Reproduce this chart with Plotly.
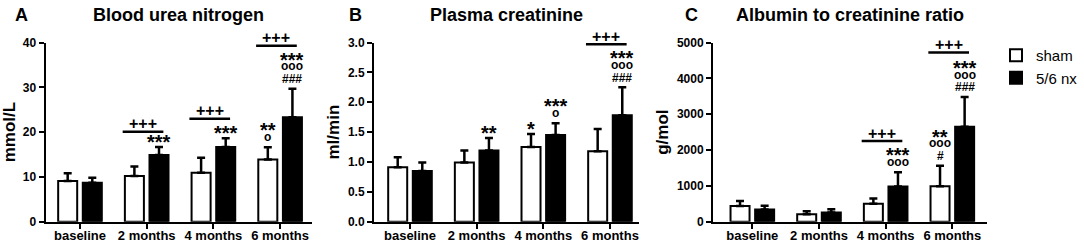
import plotly.graph_objects as go

# ---------------- data ----------------
categories = ["baseline", "2 months", "4 months", "6 months"]
series_names = ["sham", "5/6 nx"]

bun_sham = [9.1, 10.2, 10.9, 13.9]
bun_sham_err = [1.7, 2.1, 3.4, 2.7]
bun_nx = [8.7, 14.9, 16.7, 23.3]
bun_nx_err = [1.1, 1.8, 1.9, 6.4]

crea_sham = [0.91, 0.99, 1.25, 1.18]
crea_sham_err = [0.17, 0.20, 0.22, 0.37]
crea_nx = [0.85, 1.19, 1.45, 1.78]
crea_nx_err = [0.14, 0.21, 0.20, 0.47]

acr_sham = [440, 210, 500, 990]
acr_sham_err = [140, 85, 150, 570]
acr_nx = [340, 255, 980, 2650]
acr_nx_err = [105, 95, 400, 830]

# significance labels, listed bottom to top
bun_sham_sig = [[], [], [], ["o", "**"]]
bun_nx_sig = [[], ["***"], ["***"], ["###", "ooo", "***"]]
crea_sham_sig = [[], [], ["*"], []]
crea_nx_sig = [[], ["**"], ["o", "***"], ["###", "ooo", "***"]]
acr_sham_sig = [[], [], [], ["#", "ooo", "**"]]
acr_nx_sig = [[], [], ["ooo", "***"], ["###", "ooo", "***"]]

# "+++" bracket levels (None = no bracket)
bun_brackets = [None, 20.1, 23.0, 39.3]
crea_brackets = [None, None, None, 2.97]
acr_brackets = [None, None, 2250, 4720]

titles = ["Blood urea nitrogen", "Plasma creatinine", "Albumin to creatinine ratio"]
letters = ["A", "B", "C"]
ytitles = ["mmol/L", "ml/min", "g/mol"]
bun_ticks = [0, 10, 20, 30, 40]
crea_ticks = [0.0, 0.5, 1.0, 1.5, 2.0, 2.5, 3.0]
acr_ticks = [0, 1000, 2000, 3000, 4000, 5000]

# ---------------- styling / layout ----------------
FONT = "Liberation Sans, Arial, Helvetica, sans-serif"
W, H = 1084, 245
BARGAP, BARGROUPGAP = 0.262, 0.227
slot = (1 - BARGAP) / 2
bar_off = slot / 2  # centre offset of each bar from category centre

panels = [
    dict(sham=bun_sham, sham_err=bun_sham_err, nx=bun_nx, nx_err=bun_nx_err,
         sham_sig=bun_sham_sig, nx_sig=bun_nx_sig, brackets=bun_brackets,
         ticks=bun_ticks, fmt="d", xpx=(45.5, 312), xr=(-0.517, 3.478), letter_px=13),
    dict(sham=crea_sham, sham_err=crea_sham_err, nx=crea_nx, nx_err=crea_nx_err,
         sham_sig=crea_sham_sig, nx_sig=crea_nx_sig, brackets=crea_brackets,
         ticks=crea_ticks, fmt=".1f", xpx=(374, 639.3), xr=(-0.54, 3.44), letter_px=347),
    dict(sham=acr_sham, sham_err=acr_sham_err, nx=acr_nx, nx_err=acr_nx_err,
         sham_sig=acr_sham_sig, nx_sig=acr_nx_sig, brackets=acr_brackets,
         ticks=acr_ticks, fmt="d", xpx=(713, 987), xr=(-0.59, 3.52), letter_px=683),
]

ydom = [(H - 221.7) / H, (H - 42.5) / H]

fig = go.Figure()
annotations = []
shapes = []


def glyph_size(s):
    if "*" in s:
        return 20
    if "+" in s:
        return 16
    return 12


def glyph_lift(s, size):
    # visual centre of glyph relative to text-box middle (px)
    if "*" in s:
        return 0.23 * size
    if "o" in s:
        return -0.08 * size
    return 0.0


for k, p in enumerate(panels):
    sfx = "" if k == 0 else str(k + 1)
    xa, ya = "x" + sfx, "y" + sfx
    for name, vals, errs, fill in [
        (series_names[0], p["sham"], p["sham_err"], "white"),
        (series_names[1], p["nx"], p["nx_err"], "black"),
    ]:
        fig.add_trace(go.Bar(
            x=list(range(len(categories))), y=vals, name=name,
            xaxis=xa, yaxis=ya, legendgroup=name, showlegend=(k == 0),
            marker=dict(color=fill, line=dict(color="black", width=2)),
            error_y=dict(type="data", array=errs, arrayminus=[0] * len(errs),
                         symmetric=False, color="black", thickness=2.5, width=4),
            hoverinfo="skip",
        ))

    x0px, x1px = p["xpx"]
    fig.layout["xaxis" + sfx] = dict(
        domain=[x0px / W, x1px / W], anchor=ya, range=list(p["xr"]),
        tickvals=list(range(len(categories))), ticktext=categories,
        showline=True, linecolor="black", linewidth=2, ticks="outside",
        ticklen=5, tickwidth=1.5, tickcolor="black", showgrid=False, zeroline=False,
        tickfont=dict(family=FONT, size=13, color="black", weight="bold"),
        ticklabelstandoff=-4,
        automargin=False, fixedrange=True,
    )
    fig.layout["yaxis" + sfx] = dict(
        domain=ydom, anchor=xa, range=[p["ticks"][0], p["ticks"][-1]],
        tickvals=p["ticks"], tickformat=p["fmt"],
        showline=True, linecolor="black", linewidth=2, ticks="outside",
        ticklen=5, tickwidth=2, tickcolor="black", showgrid=False, zeroline=False,
        tickfont=dict(family=FONT, size=12, color="black", weight="bold"),
        title=dict(text=ytitles[k], standoff=4,
                   font=dict(family=FONT, size=17, color="black", weight="bold")),
        automargin=False, fixedrange=True,
    )

    # titles and panel letters
    annotations.append(dict(
        text=titles[k], xref=xa + " domain", x=0.5, yref="paper", y=1 - 15 / H,
        xanchor="center", yanchor="middle", showarrow=False,
        font=dict(family=FONT, size=18, color="black", weight="bold")))
    annotations.append(dict(
        text=letters[k], xref="paper", x=p["letter_px"] / W, yref="paper", y=1 - 15 / H,
        xanchor="left", yanchor="middle", showarrow=False,
        font=dict(family=FONT, size=18, color="black", weight="bold")))

    # significance stacks, one text per line, placed above the error-bar cap
    for sig, vals, errs, side in [(p["sham_sig"], p["sham"], p["sham_err"], -1),
                                  (p["nx_sig"], p["nx"], p["nx_err"], 1)]:
        for i, lines in enumerate(sig):
            for j, s in enumerate(lines):
                size = glyph_size(s)
                target = 9.5 + 12 * j
                annotations.append(dict(
                    text=s, xref=xa, x=i + side * bar_off, yref=ya, y=vals[i] + errs[i],
                    xanchor="center", yanchor="middle", showarrow=False,
                    yshift=target - glyph_lift(s, size),
                    font=dict(family=FONT, size=size, color="black", weight="bold")))

    # +++ brackets
    for i, lvl in enumerate(p["brackets"]):
        if lvl is None:
            continue
        bx0, bx1 = i - 0.36, i + 0.25
        shapes.append(dict(type="line", xref=xa, yref=ya, x0=bx0, x1=bx1, y0=lvl, y1=lvl,
                           line=dict(color="black", width=2.5)))
        annotations.append(dict(
            text="+++", xref=xa, x=(bx0 + bx1) / 2, yref=ya, y=lvl,
            xanchor="center", yanchor="middle", showarrow=False, yshift=8,
            font=dict(family=FONT, size=16, color="black", weight="bold")))

fig.update_layout(
    template="none",
    width=W, height=H, margin=dict(l=0, r=0, t=0, b=0, autoexpand=False),
    paper_bgcolor="white", plot_bgcolor="white",
    barmode="group", bargap=BARGAP, bargroupgap=BARGROUPGAP,
    annotations=annotations, shapes=shapes,
    legend=dict(x=996 / W, y=1 - 39 / H, xanchor="left", yanchor="top",
                font=dict(family=FONT, size=15, color="black"),
                bgcolor="rgba(0,0,0,0)", itemwidth=30, tracegroupgap=0),
    font=dict(family=FONT, color="black"),
)

fig.write_html(
    "out.html",
    config={"displayModeBar": False, "responsive": False},
    post_script="document.body.style.margin='0';document.body.style.overflow='hidden';",
)
